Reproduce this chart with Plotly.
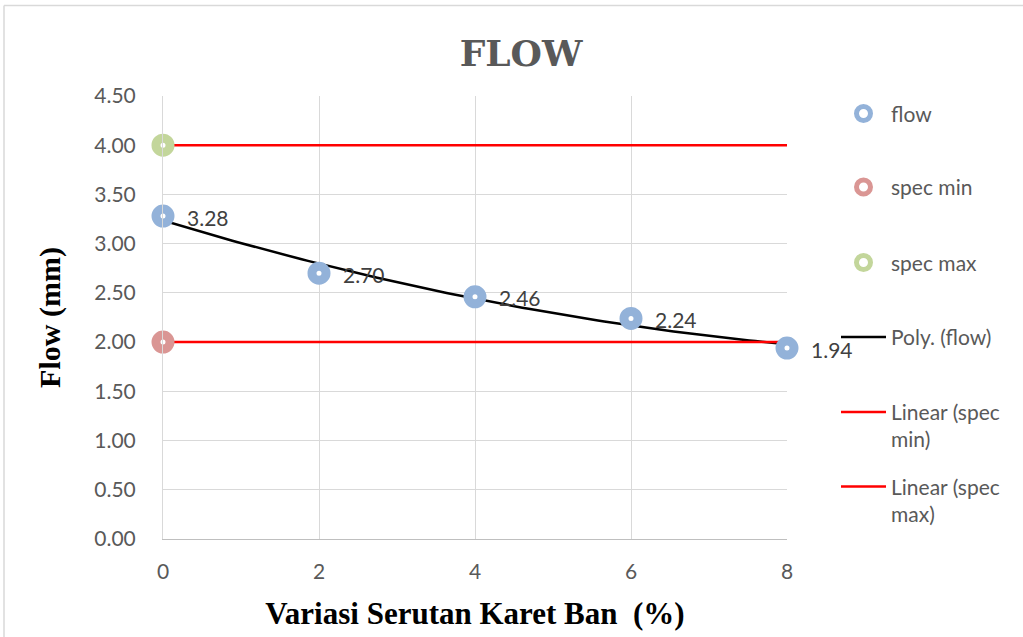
import numpy as np
import plotly.graph_objects as go

# ---- data ----
x_vals = [0, 2, 4, 6, 8]
flow = [3.28, 2.70, 2.46, 2.24, 1.94]
spec_min_x = [0]
spec_min = [2.00]
spec_max_x = [0]
spec_max = [4.00]
line_x_range = [0, 8]
y_ticks = [0.0, 0.5, 1.0, 1.5, 2.0, 2.5, 3.0, 3.5, 4.0, 4.5]
x_ticks = [0, 2, 4, 6, 8]

BLUE = "#93B2D9"
RED_M = "#DA9694"
GREEN = "#C3D69B"
TXT = "#595959"
FONT = "Lato"

# polynomial (order 2) trendline for flow
coef = np.polyfit(x_vals, flow, 2)
xt = np.linspace(line_x_range[0], line_x_range[1], 100)
yt = np.polyval(coef, xt)

fig = go.Figure()

def donut(color):
    return dict(size=14, color="white", line=dict(color=color, width=9))

fig.add_trace(go.Scatter(x=xt, y=yt, mode="lines", name="Poly. (flow)",
                         line=dict(color="black", width=2.5), cliponaxis=False, legend="legend4"))
fig.add_trace(go.Scatter(x=line_x_range, y=[spec_min[0]] * 2, mode="lines",
                         name="Linear (spec<br>min)", line=dict(color="#FF0000", width=2.5),
                         cliponaxis=False, legend="legend5"))
fig.add_trace(go.Scatter(x=line_x_range, y=[spec_max[0]] * 2, mode="lines",
                         name="Linear (spec<br>max)", line=dict(color="#FF0000", width=2.5),
                         cliponaxis=False, legend="legend6"))
fig.add_trace(go.Scatter(x=x_vals, y=flow, mode="markers", name="flow",
                         marker=donut(BLUE), cliponaxis=False, legend="legend"))
fig.add_trace(go.Scatter(x=spec_min_x, y=spec_min, mode="markers", name="spec min",
                         marker=donut(RED_M), cliponaxis=False, legend="legend2"))
fig.add_trace(go.Scatter(x=spec_max_x, y=spec_max, mode="markers", name="spec max",
                         marker=donut(GREEN), cliponaxis=False, legend="legend3"))

annotations = []
for xv, yv in zip(x_vals, flow):
    annotations.append(dict(x=xv, y=yv, xref="x", yref="y", text=f"{yv:.2f}",
                            showarrow=False, xanchor="left", yanchor="middle",
                            xshift=22, yshift=-1,
                            font=dict(family=FONT, size=21, color="#404040")))
fig.update_layout(annotations=annotations)

L, R, T, B = 163, 236, 96, 95
W, H = 1023, 637
pw, ph = W - L - R, H - T - B

def px(xp):
    return (xp - L) / pw

def py(yp):
    return (H - B - yp) / ph

def leg(xp, yp, valign="middle"):
    return dict(x=px(xp), y=py(yp), xanchor="left", yanchor="middle",
                bgcolor="rgba(0,0,0,0)", borderwidth=0, itemwidth=45, valign=valign,
                font=dict(family=FONT, size=21, color=TXT))

fig.update_layout(
    width=W, height=H,
    margin=dict(l=L, r=R, t=T, b=B),
    paper_bgcolor="white", plot_bgcolor="white",
    title=dict(text="<b>FLOW</b>", x=521 / W, xref="container", xanchor="center",
               y=1 - 53 / H, yanchor="middle",
               font=dict(family="DejaVu Serif", size=36, color=TXT)),
    xaxis=dict(range=[0, 8], tickvals=x_ticks, showgrid=True, gridcolor="#D9D9D9",
               gridwidth=1, zeroline=False, showline=True, linecolor="#BFBFBF",
               linewidth=1, ticks="", ticklabelstandoff=14,
               tickfont=dict(family=FONT, size=21, color=TXT),
               title=dict(text="<b>Variasi Serutan Karet Ban  (%)</b>", standoff=20,
                          font=dict(family="Liberation Serif", size=31, color="black"))),
    yaxis=dict(range=[0, 4.5], tickvals=y_ticks, tickformat=".2f", showgrid=True,
               gridcolor="#D9D9D9", gridwidth=1, zeroline=False, showline=True,
               linecolor="#D9D9D9", linewidth=1, ticks="", ticklabelstandoff=22,
               tickfont=dict(family=FONT, size=21, color=TXT),
               title=dict(text="<b>Flow (mm)</b>", standoff=24,
                          font=dict(family="Liberation Serif", size=30, color="black"))),
    showlegend=True,
    legend=leg(836, 114),
    legend2=leg(836, 188),
    legend3=leg(836, 264),
    legend4=leg(836, 339),
    legend5=leg(836, 428, "top"),
    legend6=leg(836, 503, "top"),
    shapes=[
        dict(type="line", xref="paper", yref="paper", x0=px(4), x1=px(1030),
             y0=py(5), y1=py(5), line=dict(color="#D9D9D9", width=1.5)),
        dict(type="line", xref="paper", yref="paper", x0=px(4), x1=px(4),
             y0=py(5), y1=py(645), line=dict(color="#D9D9D9", width=1.5)),
    ],
)

fig.write_html("out.html")
